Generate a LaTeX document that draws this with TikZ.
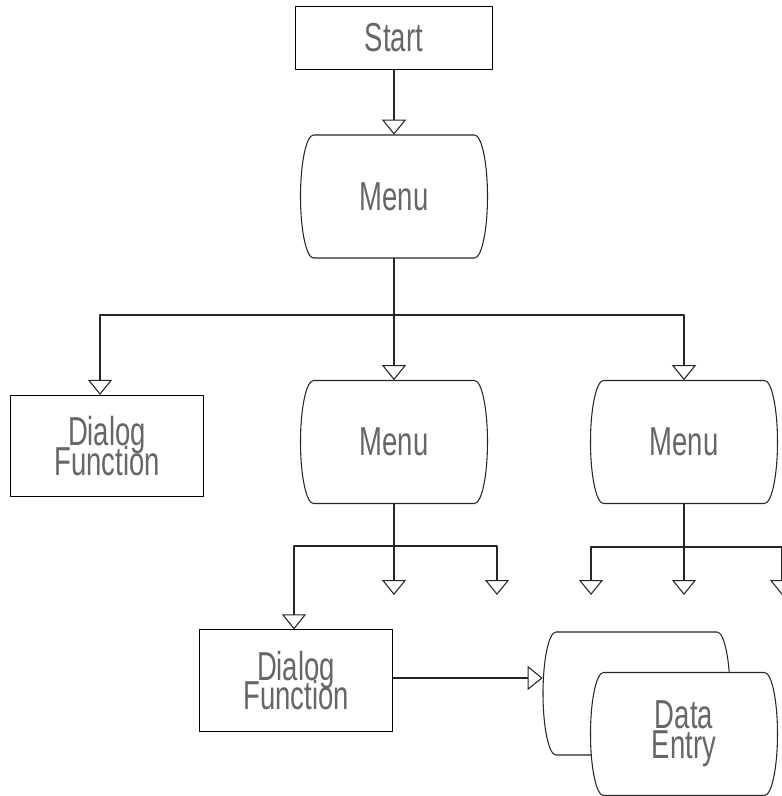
\documentclass[tikz,border=0pt]{standalone}
\usepackage{fontspec}
\newfontfamily\flowfont[FakeStretch=0.68]{Liberation Sans}
\newcommand\flowsize{\fontsize{23}{17}\selectfont\setlength\lineskiplimit{-30pt}\setlength\lineskip{0pt}\relax}
\usetikzlibrary{arrows.meta}
\tikzset{
  flowtext/.style={font=\flowfont\flowsize,text=black!60,align=center},
  startbox/.style={draw,flowtext,inner sep=0pt,minimum width=3.94cm,minimum height=1.26cm},
  dialogbox/.style={draw,flowtext,inner sep=0pt,minimum width=3.86cm,minimum height=2.03cm},
  menubox/.style={flowtext,inner sep=0pt,minimum width=3.74cm,minimum height=2.46cm},
  flowline/.style={draw=black!85,line width=0.6pt,-{Triangle[open,width=0.48cm,length=0.3cm]}}
}
% menu node: outline with curved sides, then the named node on top
\newcommand\menunode[3]{%
  \begin{scope}[shift={(#2)}]
    \filldraw[draw=black!85,fill=white,line width=0.6pt] (-80.5,-61.5) -- (80.5,-61.5)
      arc[start angle=90,end angle=-90,x radius=0.26cm,y radius=1.23cm] -- (-80.5,61.5)
      arc[start angle=270,end angle=90,x radius=0.26cm,y radius=1.23cm] -- cycle;
  \end{scope}
  \node[menubox] (#1) at (#2) {#3};}
\begin{document}
\begin{tikzpicture}[x=0.02cm,y=-0.02cm,line join=round]
	\clip (0,0) rectangle (782,796);
	\fill[white] (0,0) rectangle (782,796);
	\node[startbox] (start) at (394,37.5) {Start};
	\menunode{menuA}{394,196.5}{Menu}
	\node[dialogbox] (dialogA) at (107,446) {Dialog\\Function};
	\menunode{menuB}{394,442}{Menu}
	\menunode{menuC}{684,442}{Menu}
	\node[dialogbox] (dialogB) at (296,680.5) {Dialog\\Function};
	\menunode{dataA}{636.5,693.5}{}
	\menunode{dataB}{684,734}{Data\\Entry}
	% junctions and free ends
	\coordinate (jA) at (394,315);
	\coordinate (jB) at (394,546);
	\coordinate (jC) at (684,547);
	\coordinate (tipB2) at (394,595);
	\coordinate (tipB3) at (497,595);
	\coordinate (tipC1) at (591,595);
	\coordinate (tipC2) at (684,595);
	\coordinate (tipC3) at (782,595);
	\draw[flowline] (start.south)--(menuA.north);
	\draw[flowline] (menuA.south)--(menuB.north);
	\draw[flowline] (jA) -| ([xshift=-0.14cm]dialogA.north);
	\draw[flowline] (jA) -| (menuC.north);
	\draw[flowline] (menuB.south)--(tipB2);
	\draw[flowline] (jB) -| ([xshift=-0.04cm]dialogB.north);
	\draw[flowline] (jB) -| (tipB3);
	\draw[flowline] (menuC.south)--(tipC2);
	\draw[flowline] (jC) -| (tipC1);
	\draw[flowline] (jC) -| (tipC3);
	\draw[flowline] ([yshift=0.05cm]dialogB.east)--([yshift=0.05cm]dialogB.east -| dataA.west);
\end{tikzpicture}
\end{document}
